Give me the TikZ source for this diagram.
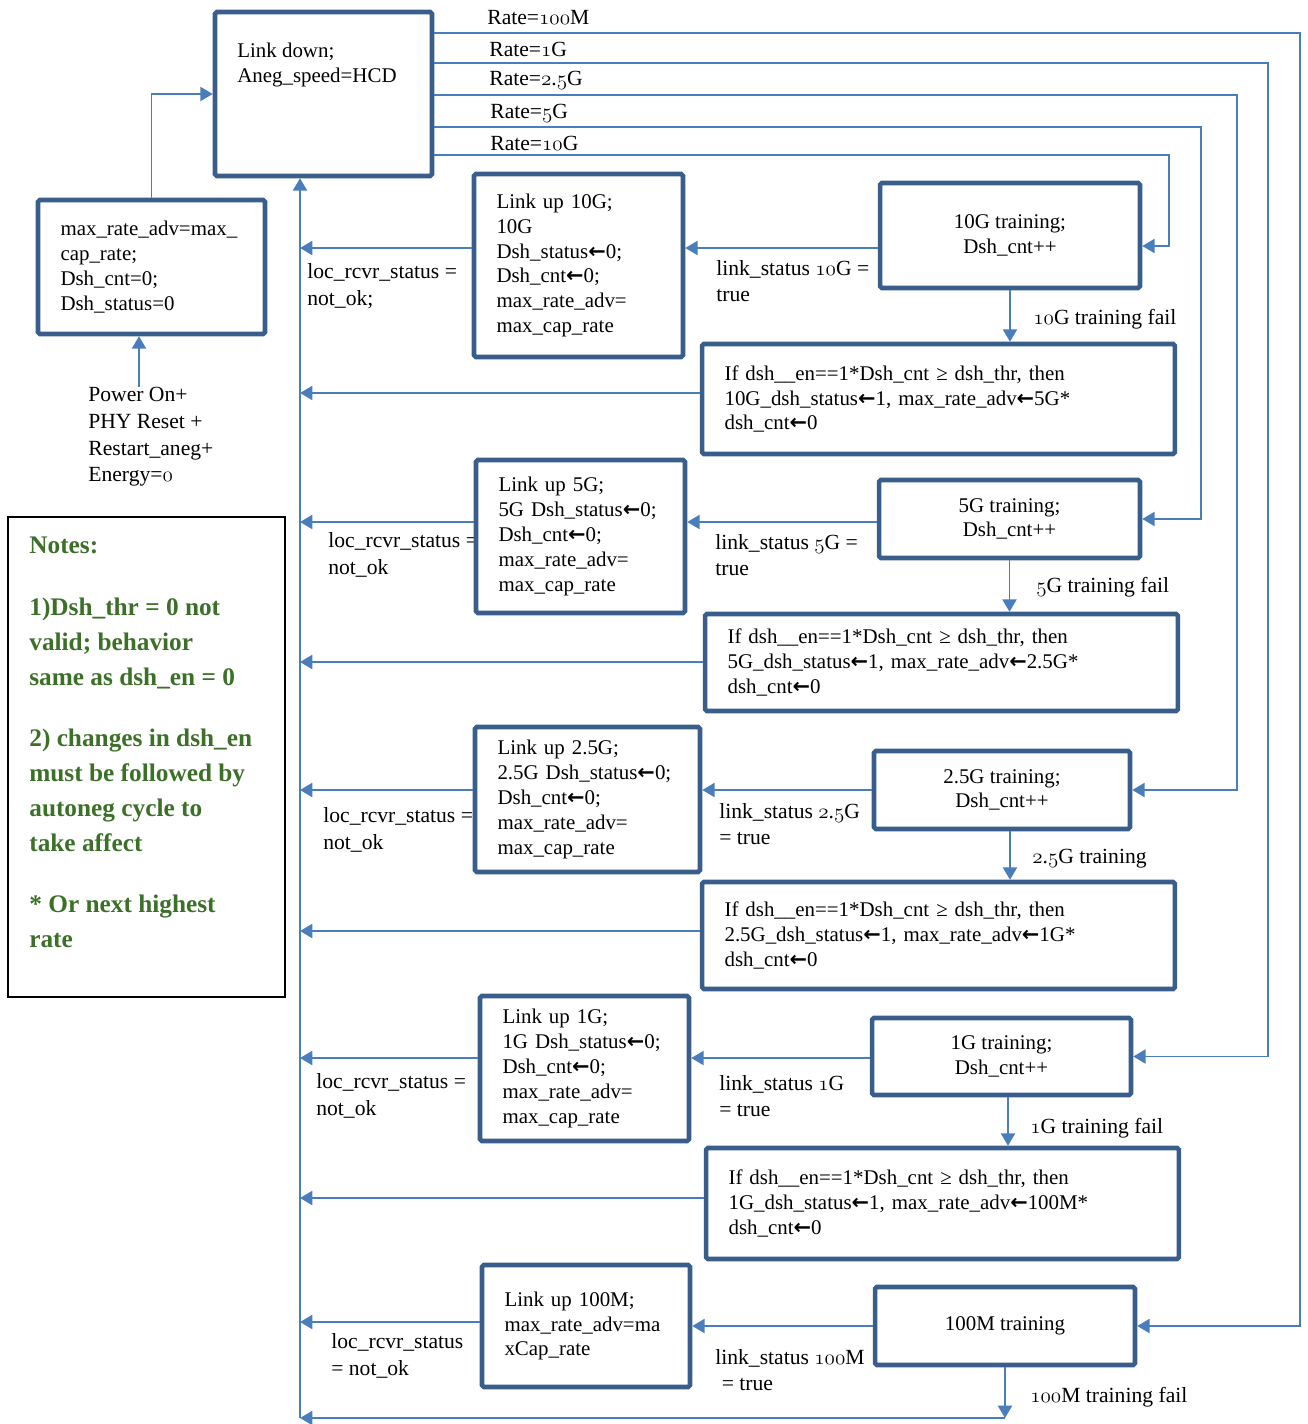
\documentclass[tikz,border=0pt]{standalone}
\usepackage{fontspec}
\setmainfont{Liberation Serif}
\newfontfamily\arrowfont{DejaVu Sans}
\usetikzlibrary{arrows.meta}
\definecolor{boxblue}{RGB}{58,94,140}
\definecolor{lineblue}{RGB}{74,126,187}
\definecolor{notegreen}{RGB}{60,112,40}
\newcommand{\osf}[1]{{\usefont{OML}{cmm}{m}{it}#1}}
\newcommand{\la}{{\arrowfont\bfseries ←}}
\newcommand{\boxfont}{\fontsize{11.9}{14.1}\selectfont}
\newcommand{\lblfont}{\fontsize{12.3}{15.2}\selectfont}
\newcommand{\notefont}{\fontsize{14.4}{19.9}\selectfont\bfseries}
\begin{document}
\begin{tikzpicture}[x=0.02cm,y=-0.02cm,>={Triangle[length=7pt,width=8pt]},
  box/.style={draw=boxblue,line width=2.6pt,rounded corners=1pt,fill=white,
    inner xsep=0.45cm,inner ysep=0pt,font=\boxfont},
  lbl/.style={anchor=west,inner sep=0pt,align=left,font=\lblfont},
  conn/.style={draw=lineblue,line width=1pt,->}]
\useasboundingbox (0,0) rectangle (1308,1424);
%Nhan Rate
\node[lbl] (rate100) at (487,18) {Rate=\osf{100}M};
\node[lbl] (rate1) at (489,49) {Rate=\osf{1}G};
\node[lbl] (rate25) at (489,80) {Rate=\osf{2}.\osf{5}G};
\node[lbl] (rate5) at (490,113) {Rate=\osf{5}G};
\node[lbl] (rate10) at (490,143) {Rate=\osf{10}G};
%Nhan trai
\node[lbl] (power) at (88,437) {Power On+\\PHY Reset +\\Restart\_aneg+\\Energy=\osf{0}};
\node[lbl] (nok10) at (307,286) {loc\_rcvr\_status =\\not\_ok;};
\node[lbl] (nok5) at (328,555) {loc\_rcvr\_status =\\not\_ok};
\node[lbl] (nok25) at (323,830) {loc\_rcvr\_status =\\not\_ok};
\node[lbl] (nok1) at (316,1096) {loc\_rcvr\_status =\\not\_ok};
\node[lbl] (nok100) at (331,1356) {loc\_rcvr\_status\\= not\_ok};
%Nhan link status
\node[lbl] (ls10) at (716,281) {link\_status \osf{10}G =\\true};
\node[lbl] (ls5) at (715,555) {link\_status \osf{5}G =\\true};
\node[lbl] (ls25) at (719,824) {link\_status \osf{2}.\osf{5}G\\= true};
\node[lbl] (ls1) at (719,1096) {link\_status \osf{1}G\\= true};
\node[lbl] (ls100) at (715,1370) {link\_status \osf{100}M\\\hspace{0.3em}= true};
%Nhan training fail
\node[lbl] (f10) at (1033,319) {\osf{10}G training fail};
\node[lbl] (f5) at (1036,587) {\osf{5}G training fail};
\node[lbl] (f25) at (1032,859) {\osf{2}.\osf{5}G training};
\node[lbl] (f1) at (1030,1128) {\osf{1}G training fail};
\node[lbl] (f100) at (1030,1397) {\osf{100}M training fail};
%Khung Link down
\node[box,minimum width=4.34cm,minimum height=3.28cm] (linkdown) at (323.5,94) {};
\node[lbl,font=\boxfont] (linkdowntxt) at (237,65) {Link down;\\Aneg\_speed=HCD};
%Khung khoi tao
\node[box,align=left,text width=3.64cm,minimum height=2.68cm] (initbox) at (151.5,267)
  {max\_rate\_adv=max\_\\cap\_rate;\\Dsh\_cnt=0;\\Dsh\_status=0};
%Khung Notes
\node[draw=black,line width=0.9pt,minimum width=5.54cm,minimum height=9.6cm] (notes) at (146.5,757) {};
\node[anchor=north west,inner sep=0pt,align=left,font=\notefont,text=notegreen] (notestxt) at (29,537)
  {Notes:\\[15pt]1)Dsh\_thr = 0 not\\valid; behavior\\same as dsh\_en = 0\\[15pt]2) changes in dsh\_en\\must be followed by\\autoneg cycle to\\take affect\\[15pt]* Or next highest\\rate};
%10G
\node[box,align=left,text width=3.28cm,minimum height=3.66cm] (up10) at (578.5,265.5)
  {Link up 10G;\\10G\\Dsh\_status\la0;\\Dsh\_cnt\la0;\\max\_rate\_adv=\\max\_cap\_rate};
\node[box,align=center,minimum width=5.2cm,minimum height=2.1cm] (tr10) at (1010,235.5) {10G training;\\Dsh\_cnt++};
\node[box,align=left,text width=8.56cm,minimum height=2.2cm] (if10) at (938.5,399)
  {If dsh\_\_en==1*Dsh\_cnt ≥ dsh\_thr, then\\10G\_dsh\_status\la1, max\_rate\_adv\la5G*\\dsh\_cnt\la0};
%5G
\node[box,align=left,text width=3.28cm,minimum height=3.06cm] (up5) at (580.5,536.5)
  {Link up 5G;\\5G Dsh\_status\la0;\\Dsh\_cnt\la0;\\max\_rate\_adv=\\max\_cap\_rate};
\node[box,align=center,minimum width=5.22cm,minimum height=1.56cm] (tr5) at (1009.5,519) {5G training;\\Dsh\_cnt++};
\node[box,align=left,text width=8.56cm,minimum height=1.94cm] (if5) at (941.5,662.5)
  {If dsh\_\_en==1*Dsh\_cnt ≥ dsh\_thr, then\\5G\_dsh\_status\la1, max\_rate\_adv\la2.5G*\\dsh\_cnt\la0};
%2.5G
\node[box,align=left,text width=3.6cm,minimum height=2.9cm] (up25) at (587.5,799.5)
  {Link up 2.5G;\\2.5G Dsh\_status\la0;\\Dsh\_cnt\la0;\\max\_rate\_adv=\\max\_cap\_rate};
\node[box,align=center,minimum width=5.12cm,minimum height=1.56cm] (tr25) at (1002,790) {2.5G training;\\Dsh\_cnt++};
\node[box,align=left,text width=8.56cm,minimum height=2.14cm] (if25) at (938.5,935.5)
  {If dsh\_\_en==1*Dsh\_cnt ≥ dsh\_thr, then\\2.5G\_dsh\_status\la1, max\_rate\_adv\la1G*\\dsh\_cnt\la0};
%1G
\node[box,align=left,text width=3.28cm,minimum height=2.9cm] (up1) at (584.5,1068.5)
  {Link up 1G;\\1G Dsh\_status\la0;\\Dsh\_cnt\la0;\\max\_rate\_adv=\\max\_cap\_rate};
\node[box,align=center,minimum width=5.18cm,minimum height=1.54cm] (tr1) at (1001.5,1056.5) {1G training;\\Dsh\_cnt++};
\node[box,align=left,text width=8.56cm,minimum height=2.22cm] (if1) at (942.5,1203.5)
  {If dsh\_\_en==1*Dsh\_cnt ≥ dsh\_thr, then\\1G\_dsh\_status\la1, max\_rate\_adv\la100M*\\dsh\_cnt\la0};
%100M
\node[box,align=left,text width=3.26cm,minimum height=2.44cm] (up100) at (586,1326)
  {Link up 100M;\\max\_rate\_adv=ma\\xCap\_rate\\[10pt]};
\node[box,align=center,minimum width=5.2cm,minimum height=1.56cm] (tr100) at (1005,1326) {100M training};
%Diem goc
\coordinate (c100) at (1300,33);
\coordinate (c1) at (1268,63);
\coordinate (c25) at (1237,95);
\coordinate (c5) at (1201,127);
\coordinate (c10) at (1169,155);
\coordinate (vbot) at (300,1418);
%Mui ten Rate
\draw[conn] (linkdown.east |- c100) -- (c100) |- (tr100.east);
\draw[conn] (linkdown.east |- c1) -- (c1) |- (tr1.east);
\draw[conn] (linkdown.east |- c25) -- (c25) |- (tr25.east);
\draw[conn] (linkdown.east |- c5) -- (c5) |- (tr5.east);
\draw[conn] (linkdown.east |- c10) -- (c10) |- (tr10.east |- 0,246);
%Mui ten khoi tao
\draw[conn] (power.north -| 139,0) -- (initbox.south -| 139,0);
\draw[conn] (initbox.north) |- (linkdown.west);
%Mui ten link status
\draw[conn] (tr10.west |- 0,248) -- (up10.east |- 0,248);
\draw[conn] (tr5.west |- 0,522) -- (up5.east |- 0,522);
\draw[conn] (tr25.west) -- (up25.east |- tr25.west);
\draw[conn] (tr1.west |- 0,1058) -- (up1.east |- 0,1058);
\draw[conn] (tr100.west) -- (up100.east |- tr100.west);
%Mui ten training fail
\draw[conn] (tr10.south) -- (if10.north -| tr10.south);
\draw[conn] (tr5.south) -- (if5.north -| tr5.south);
\draw[conn] (tr25.south -| 1010,0) -- (if25.north -| 1010,0);
\draw[conn] (tr1.south -| 1008,0) -- (if1.north -| 1008,0);
\draw[conn] (tr100.south) -- (tr100.south |- vbot);
%Mui ten ve trai
\draw[conn] (up10.west |- 0,248) -- (vbot |- 0,248);
\draw[conn] (if10.west |- 0,393) -- (vbot |- 0,393);
\draw[conn] (up5.west |- 0,522) -- (vbot |- 0,522);
\draw[conn] (if5.west |- 0,662) -- (vbot |- 0,662);
\draw[conn] (up25.west |- 0,790) -- (vbot |- 0,790);
\draw[conn] (if25.west |- 0,931) -- (vbot |- 0,931);
\draw[conn] (up1.west |- 0,1058) -- (vbot |- 0,1058);
\draw[conn] (if1.west |- 0,1198) -- (vbot |- 0,1198);
\draw[conn] (up100.west |- 0,1322) -- (vbot |- 0,1322);
\draw[conn] (tr100.south |- vbot) -- (vbot);
\draw[conn] (vbot) -- (vbot |- linkdown.south);
\end{tikzpicture}
\end{document}
